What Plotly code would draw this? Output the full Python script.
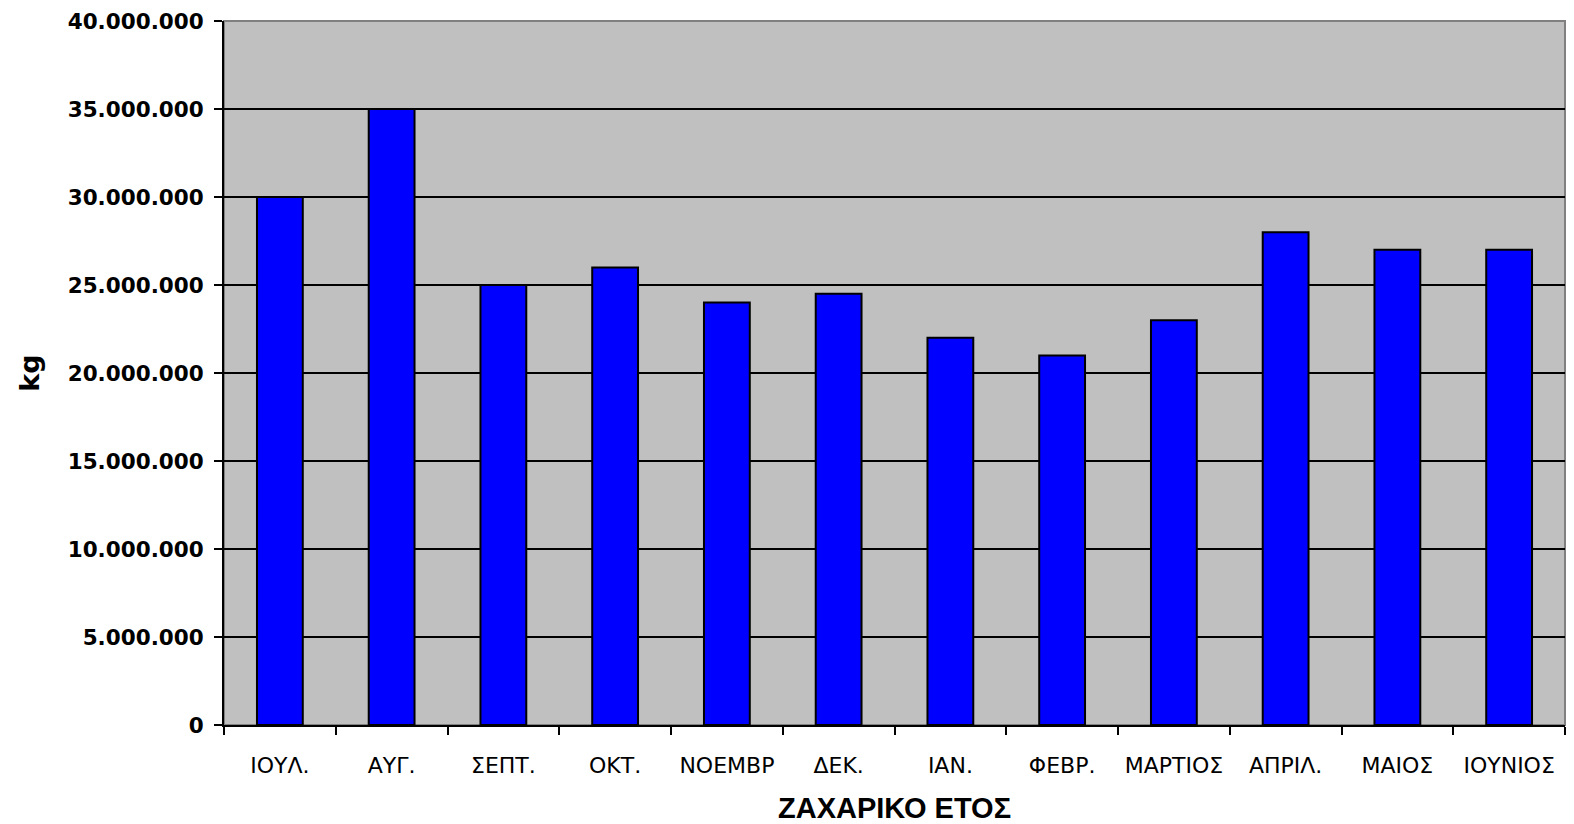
import plotly.graph_objects as go

months = ["ΙΟΥΛ.", "ΑΥΓ.", "ΣΕΠΤ.", "ΟΚΤ.", "ΝΟΕΜΒΡ", "ΔΕΚ.", "ΙΑΝ.", "ΦΕΒΡ.",
          "ΜΑΡΤΙΟΣ", "ΑΠΡΙΛ.", "ΜΑΙΟΣ", "ΙΟΥΝΙΟΣ"]
values = [30000000, 35000000, 25000000, 26000000, 24000000, 24500000, 22000000,
          21000000, 23000000, 28000000, 27000000, 27000000]
y_ticks = [0, 5000000, 10000000, 15000000, 20000000, 25000000, 30000000, 35000000, 40000000]
y_labels = ["0", "5.000.000", "10.000.000", "15.000.000", "20.000.000", "25.000.000",
            "30.000.000", "35.000.000", "40.000.000"]

fig = go.Figure(go.Bar(
    x=months, y=values,
    marker=dict(color="#0000FF", line=dict(color="black", width=2)),
))

font = "DejaVu Sans, Verdana, sans-serif"
fig.update_layout(
    width=1574, height=824,
    margin=dict(l=224, r=9, t=21, b=99, autoexpand=False),
    paper_bgcolor="white", plot_bgcolor="#C0C0C0",
    bargap=0.59, showlegend=False,
    font=dict(family=font, color="black"),
)
fig.update_xaxes(
    type="category", tickson="boundaries", ticks="outside", ticklen=8, tickwidth=2,
    tickcolor="black", showline=True, linecolor="black", linewidth=2, mirror=False,
    tickfont=dict(size=22, family=font), ticklabelstandoff=20, automargin=False,
    title=dict(text="<b>ΖΑΧΑΡΙΚΟ ΕΤΟΣ</b>", font=dict(size=29, family="Liberation Sans, Arial"), standoff=33),
    showgrid=False,
)
fig.update_yaxes(
    range=[0, 40000000], tickvals=y_ticks, ticktext=y_labels,
    ticks="outside", ticklen=8, tickwidth=2, tickcolor="black",
    showline=True, linecolor="black", linewidth=2, automargin=False,
    showgrid=True, gridcolor="black", gridwidth=1.5,
    tickfont=dict(size=21.5, family=font, weight="bold"), ticklabelstandoff=6,
    title=dict(text="<b>kg</b>", font=dict(size=27, family=font), standoff=20),
    zeroline=False,
)
fig.add_shape(type="rect", xref="paper", yref="paper", x0=0, x1=1, y0=0, y1=1,
              line=dict(color="#808080", width=2), layer="below")
post = ("document.documentElement.style.overflow='hidden';"
        "document.body.style.margin='0';document.body.style.overflow='hidden';"
        "document.body.style.height='824px';"
        "document.querySelectorAll('.plotly-graph-div').forEach(function(d){d.style.display='block';});")
fig.write_html("out.html", config={"displayModeBar": False}, post_script=post)
